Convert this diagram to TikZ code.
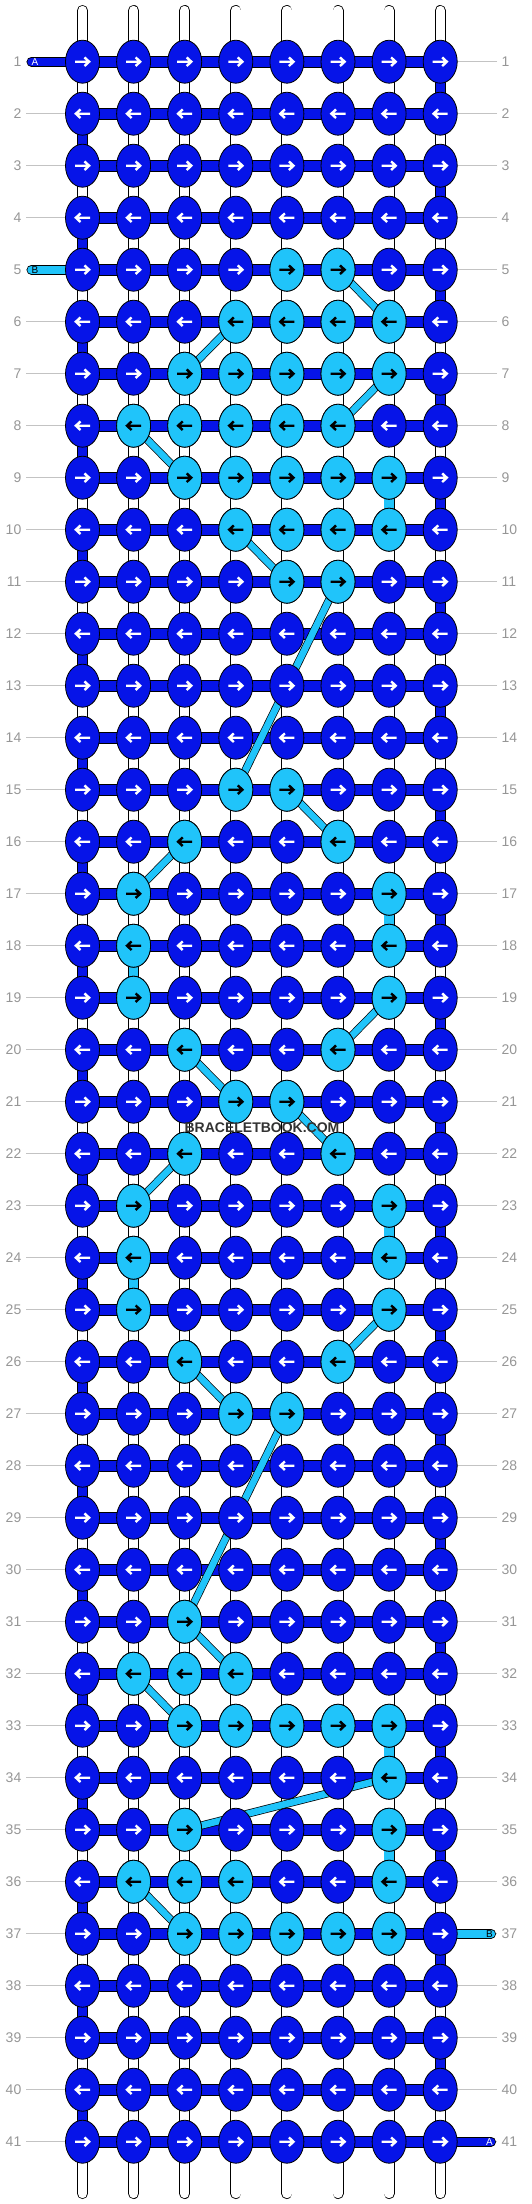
\documentclass[tikz,border=0pt]{standalone}
\usepackage{fontspec}
\setmainfont{Liberation Sans}
\usetikzlibrary{shapes.geometric}
\pgfdeclarelayer{bg}
\pgfsetlayers{bg,main}
\definecolor{threadA}{RGB}{6,20,232}
\definecolor{threadB}{RGB}{32,196,250}
\definecolor{numgray}{RGB}{150,150,150}
\definecolor{guidegray}{RGB}{195,195,195}
\definecolor{markgray}{RGB}{50,50,50}
\tikzset{
  knotarrow/.style 2 args={path picture={
    \draw[#2, line width=2.4pt, shift={(path picture bounding box.center)}]
      ({-7.5*(#1)},0) -- ({6*(#1)},0) ({2*(#1)},-4.3) -- ({6.6*(#1)},0) -- ({2*(#1)},4.3);}},
  knot/.style={ellipse, draw=black, line width=0.8pt, inner sep=0pt,
    minimum width=34pt, minimum height=43pt},
  knotA/.style={knot, fill=threadA, knotarrow={#1}{white}},
  knotB/.style={knot, fill=threadB, knotarrow={#1}{black}},
  hstrand/.style={draw=black, line width=0.8pt, double=threadA, double distance=10pt},
  vstrand/.style={draw=black, line width=0.8pt, double=#1, double distance=9.4pt},
  bstrand/.style={draw=black, line width=0.7pt, double=threadB, double distance=6.6pt},
  stub/.style={draw=black, line width=0.8pt, double=#1, double distance=8.4pt, line cap=round},
  rowlbl/.style={text=numgray, font=\fontsize{14}{14}\selectfont, inner sep=0pt},
  guide/.style={guidegray, line width=1pt},
  endlbl/.style={font=\fontsize{10}{10}\selectfont, inner sep=0pt}
}
\begin{document}
\begin{tikzpicture}[x=1pt, y=-1pt]
\useasboundingbox (0,0) rectangle (532,2204);
\foreach \row in {1,...,41} {
  \pgfmathtruncatemacro\dir{1-2*mod(\row+1,2)}
  \foreach \col in {1,...,8}
    \node[knotA=\dir] (k-\row-\col) at ({82.5+51.1*(\col-1)},{61.7+52*(\row-1)}) {};
  \node[rowlbl, anchor=east] (ln-\row) at (21.5,{61.7+52*(\row-1)}) {\row};
  \node[rowlbl, anchor=west] (rn-\row) at (501.5,{61.7+52*(\row-1)}) {\row};
}
\foreach \row/\cl in {5/{5,6}, 6/{4,5,6,7}, 7/{3,4,5,6,7}, 8/{2,3,4,5,6}, 9/{3,4,5,6,7},
    10/{4,5,6,7}, 11/{5,6}, 15/{4,5}, 16/{3,6}, 17/{2,7}, 18/{2,7}, 19/{2,7}, 20/{3,6},
    21/{4,5}, 22/{3,6}, 23/{2,7}, 24/{2,7}, 25/{2,7}, 26/{3,6}, 27/{4,5}, 31/{3},
    32/{2,3,4}, 33/{3,4,5,6,7}, 34/{7}, 35/{3,7}, 36/{2,3,4,7}, 37/{3,4,5,6,7}} {
  \pgfmathtruncatemacro\dir{1-2*mod(\row+1,2)}
  \foreach \col in \cl
    \node[knotB=\dir] (k-\row-\col) at (k-\row-\col) {};
}
\coordinate (inA) at (31.5,61.7);
\coordinate (inB) at (31.5,269.7);
\coordinate (outB) at (491,1933.7);
\coordinate (outA) at (491,2141.7);
\node[endlbl, text=white] (lblA1) at (35,61.7) {A};
\node[endlbl, text=black] (lblB1) at (35,269.7) {B};
\node[endlbl, text=black] (lblB2) at (489.5,1933.7) {B};
\node[endlbl, text=white] (lblA2) at (489.5,2141.7) {A};
\node[font=\bfseries\fontsize{14}{14}\selectfont, text=markgray, inner sep=0pt] (mark) at (262,1128) {BRACELETBOOK.COM};
\begin{pgfonlayer}{bg}
\foreach \row in {1,...,41} {
  \draw[guide] ([xshift=4.5pt]ln-\row.east) -- (k-\row-1.center);
  \draw[guide] ([xshift=-4.5pt]rn-\row.west) -- (k-\row-8.center);
}
\foreach \col in {1,...,8} {
  \coordinate (top-\col) at ({82.5+51.1*(\col-1)},10.5);
  \coordinate (bot-\col) at ({82.5+51.1*(\col-1)},2193.5);
  \draw[vstrand=white, line cap=round] (top-\col) -- (k-1-\col.center);
  \draw[vstrand=white, line cap=round] (k-41-\col.center) -- (bot-\col);
}
\foreach \row in {1,...,40} {
  \pgfmathtruncatemacro\nxt{\row+1}
  \pgfmathtruncatemacro\turn{8-7*mod(\row+1,2)}
  \foreach \col in {1,...,8} {
    \ifnum\col=\turn \def\fc{threadA}\else\def\fc{white}\fi
    \draw[vstrand=\fc] (k-\row-\col.center) -- (k-\nxt-\col.center);
  }
}
\foreach \row/\col in {9/7, 17/7, 18/2, 23/7, 24/2, 33/7, 35/7} {
  \pgfmathtruncatemacro\nxt{\row+1}
  \draw[vstrand=threadB] (k-\row-\col.center) -- (k-\nxt-\col.center);
}
\foreach \row in {1,...,41}
  \draw[hstrand] (k-\row-1.center) -- (k-\row-8.center);
\draw[stub=threadA] (inA) -- (k-1-1.center);
\draw[stub=threadB] (inB) -- (k-5-1.center);
\draw[stub=threadB] (k-37-8.center) -- (outB);
\draw[stub=threadA] (k-41-8.center) -- (outA);
\foreach \a/\b in {5-6/6-7, 6-4/7-3, 7-7/8-6, 8-2/9-3, 10-4/11-5, 11-6/15-4, 15-5/16-6,
    16-3/17-2, 19-7/20-6, 20-3/21-4, 21-5/22-6, 22-3/23-2, 25-7/26-6, 26-3/27-4,
    27-5/31-3, 31-3/32-4, 32-2/33-3, 34-7/35-3, 36-2/37-3}
  \draw[bstrand] (k-\a.center) -- (k-\b.center);
\end{pgfonlayer}
\end{tikzpicture}
\end{document}
